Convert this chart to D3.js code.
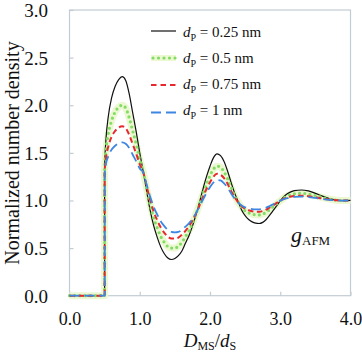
<!DOCTYPE html>
<html><head><meta charset="utf-8">
<script src="https://cdn.jsdelivr.net/npm/d3@7"></script>
<style>
body{margin:0;background:#fff}
svg{display:block}
svg text{fill:#111}
</style>
</head><body>
<svg id="c" width="362" height="352"></svg>
<script>
// ---- data ----
const xValues = [0,0.5,0.5,0.52,0.55,0.6,0.65,0.7,0.75,0.8,0.85,0.9,0.95,1.0,1.05,
  1.1,1.15,1.2,1.25,1.3,1.35,1.4,1.45,1.5,1.55,1.6,1.65,1.7,1.75,1.8,
  1.85,1.9,1.95,2.0,2.05,2.1,2.15,2.2,2.25,2.3,2.35,2.4,
  2.45,2.5,2.55,2.6,2.65,2.7,2.75,2.8,2.85,2.9,2.95,3.0,
  3.05,3.1,3.15,3.2,3.3,3.4,3.5,3.6,3.7,3.8,3.9,4.0];
const g025 = [0,0,1.35,1.65,1.87,2.08,2.20,2.27,2.30,2.26,2.12,1.92,1.72,1.50,1.30,
  1.09,0.89,0.73,0.61,0.51,0.44,0.395,0.38,0.39,0.42,0.47,0.55,0.63,0.73,0.85,
  0.98,1.12,1.25,1.36,1.45,1.49,1.47,1.41,1.31,1.19,1.08,0.99,
  0.90,0.84,0.80,0.775,0.762,0.758,0.77,0.80,0.845,0.895,0.945,0.995,
  1.04,1.07,1.09,1.103,1.11,1.10,1.075,1.045,1.02,1.005,0.998,1.0];
const g05 = [0,0,1.32,1.54,1.69,1.84,1.93,1.98,2.00,1.97,1.87,1.73,1.59,1.43,1.30,
  1.12,0.95,0.81,0.71,0.62,0.56,0.515,0.50,0.50,0.52,0.56,0.62,0.68,0.76,0.86,
  0.96,1.07,1.17,1.26,1.33,1.36,1.35,1.30,1.23,1.14,1.05,0.985,
  0.93,0.89,0.87,0.857,0.85,0.848,0.857,0.876,0.904,0.935,0.966,0.997,
  1.027,1.048,1.061,1.07,1.075,1.068,1.051,1.031,1.014,1.003,0.999,1.0];
const g075 = [0,0,1.30,1.45,1.56,1.67,1.73,1.765,1.78,1.76,1.69,1.59,1.49,1.38,1.295,
  1.145,1.00,0.88,0.79,0.715,0.66,0.62,0.60,0.60,0.61,0.64,0.68,0.73,0.79,0.86,
  0.945,1.035,1.12,1.19,1.25,1.28,1.27,1.235,1.175,1.10,1.035,0.98,
  0.94,0.914,0.897,0.887,0.883,0.882,0.889,0.904,0.926,0.949,0.974,0.997,
  1.018,1.032,1.041,1.046,1.05,1.045,1.034,1.02,1.009,1.002,0.999,1.0];
const g1 = [0,0,1.28,1.39,1.46,1.535,1.575,1.60,1.61,1.595,1.55,1.48,1.41,1.335,1.293,
  1.163,1.035,0.93,0.85,0.78,0.73,0.69,0.67,0.665,0.67,0.69,0.725,0.76,0.805,0.865,
  0.935,1.01,1.08,1.14,1.19,1.215,1.21,1.18,1.135,1.075,1.02,0.98,
  0.948,0.928,0.917,0.91,0.907,0.907,0.913,0.925,0.942,0.96,0.979,0.998,
  1.014,1.025,1.032,1.037,1.04,1.036,1.027,1.016,1.007,1.002,0.999,1.0];
const seriesNames = ["0.25","0.5","0.75","1"];
const xTicks = [0,1,2,3,4];
const yTicks = [0,0.5,1,1.5,2,2.5,3];

// ---- layout ----
const FONT = "'Liberation Serif', Tinos, 'Times New Roman', 'DejaVu Serif', serif";
const svg = d3.select("#c").attr("font-family",FONT);
const x = d3.scaleLinear().domain([0,4]).range([69.5,350.5]);
const y = d3.scaleLinear().domain([0,3]).range([295.7,10]);
const frameColor = "#c3ccd3";

svg.append("rect").attr("x",x(0)).attr("y",y(3)).attr("width",x(4)-x(0)).attr("height",y(0)-y(3))
  .attr("fill","none").attr("stroke",frameColor).attr("stroke-width",1.2);

const gx = svg.append("g").attr("transform",`translate(0,${y(0)})`)
  .call(d3.axisBottom(x).tickValues(xTicks).tickSizeInner(-4).tickSizeOuter(0).tickFormat(d3.format(".1f")));
gx.attr("font-family",FONT);
gx.select(".domain").remove();
gx.selectAll(".tick line").attr("stroke",frameColor).attr("stroke-width",1.2);
gx.selectAll(".tick text").attr("y",29.5).attr("dy",null).attr("font-size",18).attr("fill","#111");

const gy = svg.append("g").attr("transform",`translate(${x(0)},0)`)
  .call(d3.axisLeft(y).tickValues(yTicks).tickSizeInner(-4).tickSizeOuter(0).tickFormat(d3.format(".1f")));
gy.attr("font-family",FONT);
gy.select(".domain").remove();
gy.selectAll(".tick line").attr("stroke",frameColor).attr("stroke-width",1.2);
gy.selectAll(".tick text").attr("x",-21.5).attr("dy","0.34em").attr("font-size",19).attr("fill","#111");

// ---- curves ----
const line = d3.line().x(d=>x(d[0])).y(d=>y(d[1])).curve(d3.curveMonotoneX);
const mk = arr => xValues.map((v,i)=>[v,arr[i]]);
const gpath = line(mk(g05));
svg.append("path").attr("d",gpath).attr("fill","none").attr("stroke","#ecf8d2").attr("stroke-width",7).attr("stroke-linejoin","round");
svg.append("path").attr("d",line(mk(g025))).attr("fill","none").attr("stroke","#111").attr("stroke-width",1.2);
svg.append("path").attr("d",gpath).attr("fill","none").attr("stroke","#82dc66").attr("stroke-width",3.2)
  .attr("stroke-linecap","round").attr("stroke-dasharray","0,5.2");
svg.append("path").attr("d",line(mk(g075))).attr("fill","none").attr("stroke","#e8282c")
  .attr("stroke-width",2).attr("stroke-dasharray","5.5,3.5");
svg.append("path").attr("d",line(mk(g1))).attr("fill","none").attr("stroke","#3d86e2")
  .attr("stroke-width",1.8).attr("stroke-dasharray","10,5");

// ---- legend ----
const legLineY = [31,58,85,112.5];
const legTextY = [37,63,89,115];
const legX0 = 151, legX1 = 176;
const leg = svg.append("g");
leg.append("line").attr("x1",legX0).attr("x2",legX1).attr("y1",legLineY[0]).attr("y2",legLineY[0]).attr("stroke","#111").attr("stroke-width",1.2);
leg.append("line").attr("x1",legX0).attr("x2",legX1).attr("y1",legLineY[1]).attr("y2",legLineY[1]).attr("stroke","#ecf8d2").attr("stroke-width",6);
leg.append("line").attr("x1",legX0+2).attr("x2",legX1).attr("y1",legLineY[1]).attr("y2",legLineY[1]).attr("stroke","#82dc66").attr("stroke-width",3.2).attr("stroke-linecap","round").attr("stroke-dasharray","0,5.5");
leg.append("line").attr("x1",legX0).attr("x2",legX1).attr("y1",legLineY[2]).attr("y2",legLineY[2]).attr("stroke","#e8282c").attr("stroke-width",2).attr("stroke-dasharray","5.5,4");
leg.append("line").attr("x1",legX0).attr("x2",legX1).attr("y1",legLineY[3]).attr("y2",legLineY[3]).attr("stroke","#3d86e2").attr("stroke-width",1.8).attr("stroke-dasharray","10,5");
seriesNames.forEach((n,i)=>{
  const t = leg.append("text").attr("x",183).attr("y",legTextY[i]).attr("font-size",15);
  t.append("tspan").attr("font-style","italic").text("d");
  t.append("tspan").attr("font-size",10).attr("dy",3.5).text("P");
  t.append("tspan").attr("dy",-3.5).text(" = " + n + " nm");
});

// ---- axis titles ----
svg.append("text").attr("transform","translate(19,153) rotate(-90)").attr("text-anchor","middle")
  .attr("font-size",20).text("Normalized number density");
const xt = svg.append("text").attr("x",210).attr("y",347).attr("text-anchor","middle").attr("font-size",19);
xt.append("tspan").attr("font-style","italic").text("D");
xt.append("tspan").attr("font-size",12).attr("dy",3).text("MS");
xt.append("tspan").attr("dy",-3).text("/");
xt.append("tspan").attr("font-style","italic").text("d");
xt.append("tspan").attr("font-size",12).attr("dy",3).text("S");

const ga = svg.append("text").attr("x",291).attr("y",242).attr("font-size",22);
ga.append("tspan").attr("font-style","italic").text("g");
ga.append("tspan").attr("font-size",13).attr("dy",3).text("AFM");
</script>
</body></html>
